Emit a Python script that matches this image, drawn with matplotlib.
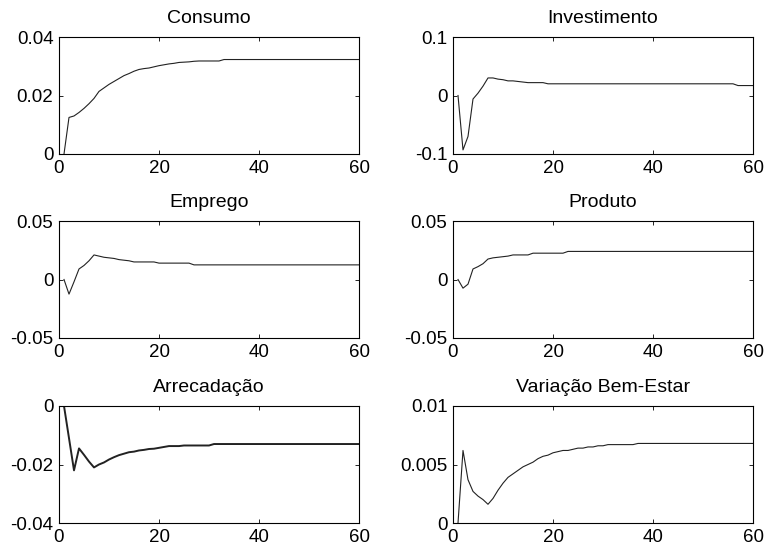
import matplotlib
matplotlib.use("Agg")
import matplotlib.pyplot as plt
import numpy as np

plt.rcParams['font.family'] = ['Liberation Sans', 'DejaVu Sans']

periods = list(range(1, 61))

consumo = [0, 0.0125, 0.0130, 0.0142, 0.0156, 0.0172, 0.0190, 0.0214, 0.0226, 0.0238,
           0.0248, 0.0258, 0.0268, 0.0275, 0.0283, 0.0289, 0.0292, 0.0294, 0.0298, 0.0302,
           0.0305, 0.0308, 0.0310, 0.0313, 0.0314, 0.0315, 0.0317, 0.0318, 0.0318, 0.0318,
           0.0318, 0.0318, 0.0323, 0.0323, 0.0323, 0.0323, 0.0323, 0.0323, 0.0323, 0.0323,
           0.0323, 0.0323, 0.0323, 0.0323, 0.0323, 0.0323, 0.0323, 0.0323, 0.0323, 0.0323,
           0.0323, 0.0323, 0.0323, 0.0323, 0.0323, 0.0323, 0.0323, 0.0323, 0.0323, 0.0323]

investimento = [0, -0.093, -0.070, -0.006, 0.004, 0.016, 0.030, 0.030, 0.028, 0.027,
                0.025, 0.025, 0.024, 0.023, 0.022, 0.022, 0.022, 0.022, 0.020, 0.020,
                0.020, 0.020, 0.020, 0.020, 0.020, 0.020, 0.020, 0.020, 0.020, 0.020,
                0.020, 0.020, 0.020, 0.020, 0.020, 0.020, 0.020, 0.020, 0.020, 0.020,
                0.020, 0.020, 0.020, 0.020, 0.020, 0.020, 0.020, 0.020, 0.020, 0.020,
                0.020, 0.020, 0.020, 0.020, 0.020, 0.020, 0.017, 0.017, 0.017, 0.017]

emprego = [0, -0.0125, -0.002, 0.009, 0.012, 0.016, 0.021, 0.020, 0.019, 0.0185,
           0.018, 0.017, 0.0165, 0.016, 0.015, 0.015, 0.015, 0.015, 0.015, 0.014,
           0.014, 0.014, 0.014, 0.014, 0.014, 0.014, 0.0125, 0.0125, 0.0125, 0.0125,
           0.0125, 0.0125, 0.0125, 0.0125, 0.0125, 0.0125, 0.0125, 0.0125, 0.0125, 0.0125,
           0.0125, 0.0125, 0.0125, 0.0125, 0.0125, 0.0125, 0.0125, 0.0125, 0.0125, 0.0125,
           0.0125, 0.0125, 0.0125, 0.0125, 0.0125, 0.0125, 0.0125, 0.0125, 0.0125, 0.0125]

produto = [0, -0.0074, -0.004, 0.009, 0.011, 0.0135, 0.0175, 0.0185, 0.019, 0.0195,
           0.020, 0.021, 0.021, 0.021, 0.021, 0.0225, 0.0225, 0.0225, 0.0225, 0.0225,
           0.0225, 0.0225, 0.024, 0.024, 0.024, 0.024, 0.024, 0.024, 0.024, 0.024,
           0.024, 0.024, 0.024, 0.024, 0.024, 0.024, 0.024, 0.024, 0.024, 0.024,
           0.024, 0.024, 0.024, 0.024, 0.024, 0.024, 0.024, 0.024, 0.024, 0.024,
           0.024, 0.024, 0.024, 0.024, 0.024, 0.024, 0.024, 0.024, 0.024, 0.024]

arrecadacao = [0, -0.011, -0.022, -0.0145, -0.0167, -0.019, -0.021, -0.020, -0.0193, -0.0183,
               -0.0175, -0.0168, -0.0163, -0.0158, -0.0156, -0.0152, -0.0150, -0.0147, -0.0146, -0.0143,
               -0.0140, -0.0137, -0.0137, -0.0137, -0.0135, -0.0135, -0.0135, -0.0135, -0.0135, -0.0135,
               -0.0130, -0.0130, -0.0130, -0.0130, -0.0130, -0.0130, -0.0130, -0.0130, -0.0130, -0.0130,
               -0.0130, -0.0130, -0.0130, -0.0130, -0.0130, -0.0130, -0.0130, -0.0130, -0.0130, -0.0130,
               -0.0130, -0.0130, -0.0130, -0.0130, -0.0130, -0.0130, -0.0130, -0.0130, -0.0130, -0.0130]

bem_estar = [0, 0.0062, 0.0037, 0.0027, 0.0023, 0.0020, 0.0016, 0.0021, 0.0028, 0.0034,
             0.0039, 0.0042, 0.0045, 0.0048, 0.0050, 0.0052, 0.0055, 0.0057, 0.0058, 0.0060,
             0.0061, 0.0062, 0.0062, 0.0063, 0.0064, 0.0064, 0.0065, 0.0065, 0.0066, 0.0066,
             0.0067, 0.0067, 0.0067, 0.0067, 0.0067, 0.0067, 0.0068, 0.0068, 0.0068, 0.0068,
             0.0068, 0.0068, 0.0068, 0.0068, 0.0068, 0.0068, 0.0068, 0.0068, 0.0068, 0.0068,
             0.0068, 0.0068, 0.0068, 0.0068, 0.0068, 0.0068, 0.0068, 0.0068, 0.0068, 0.0068]

titles = ["Consumo", "Investimento", "Emprego", "Produto", "Arrecadação", "Variação Bem-Estar"]
series = [consumo, investimento, emprego, produto, arrecadacao, bem_estar]
ylims = [(0, 0.04), (-0.1, 0.1), (-0.05, 0.05), (-0.05, 0.05), (-0.04, 0), (0, 0.01)]
yticks = [[0, 0.02, 0.04], [-0.1, 0, 0.1], [-0.05, 0, 0.05], [-0.05, 0, 0.05],
          [-0.04, -0.02, 0], [0, 0.005, 0.01]]
ytick_labels = [["0", "0.02", "0.04"], ["-0.1", "0", "0.1"], ["-0.05", "0", "0.05"],
                ["-0.05", "0", "0.05"], ["-0.04", "-0.02", "0"], ["0", "0.005", "0.01"]]
xticks = [0, 20, 40, 60]

fig = plt.figure(figsize=(7.67, 5.49), dpi=100)
lefts = [59 / 767, 453 / 767]
bottoms = [1 - 154 / 549, 1 - 338 / 549, 1 - 523 / 549]
w = 300 / 767
h = 117 / 549

for i in range(6):
    row, col = divmod(i, 2)
    ax = fig.add_axes([lefts[col], bottoms[row], w, h])
    lw = 1.4 if i == 4 else 0.8
    ax.plot(periods, series[i], color='#222222', linewidth=lw)
    ax.set_xlim(0, 60)
    ax.set_ylim(*ylims[i])
    ax.set_xticks(xticks)
    ax.set_yticks(yticks[i])
    ax.set_yticklabels(ytick_labels[i])
    ax.set_title(titles[i], fontsize=14, pad=10)
    ax.tick_params(direction='in', top=True, right=True, labelsize=13.5, length=3, width=0.6, pad=4)
    for s in ax.spines.values():
        s.set_linewidth(0.8)

fig.savefig("out.png", dpi=100)
